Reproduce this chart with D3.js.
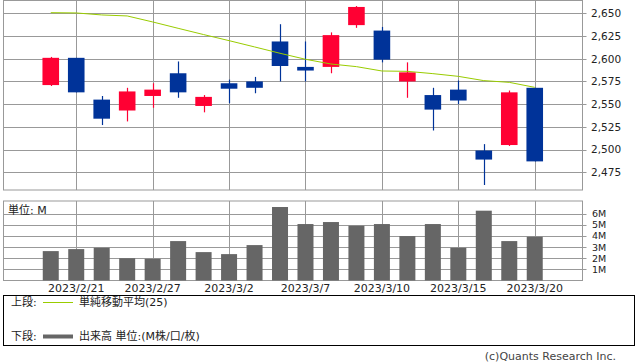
<!DOCTYPE html>
<html>
  <head>
    <meta charset="utf-8">
    <script src="https://cdnjs.cloudflare.com/ajax/libs/d3/7.8.5/d3.min.js"></script>
    <style>
      body {
        margin: 0;
        overflow: hidden;
        background: #ffffff;
      }
      text {
        font-family: "DejaVu Sans", "Noto Sans CJK JP", sans-serif;
        fill: #222;
      }
    </style>
  </head>
  <body>
    <div id="canvas"></div>
    <script>
      // 日付と四本値
      const dates = ["2/20", "2/21", "2/22", "2/24", "2/27", "2/28", "3/1", "3/2", "3/3", "3/6",
                     "3/7", "3/8", "3/9", "3/10", "3/13", "3/14", "3/15", "3/16", "3/17", "3/20"];
      const open  = [2571, 2601, 2555, 2543, 2559, 2584, 2548, 2573, 2575, 2619,
                     2591, 2591, 2637, 2631, 2575, 2560, 2566, 2499, 2505, 2568];
      const high  = [2602, 2601, 2559, 2568, 2573, 2597, 2560, 2577, 2580, 2638,
                     2619, 2629, 2658, 2635, 2596, 2568, 2576, 2506, 2565, 2568];
      const low   = [2570, 2563, 2527, 2531, 2546, 2557, 2541, 2551, 2562, 2575,
                     2575, 2584, 2634, 2596, 2557, 2521, 2550, 2461, 2504, 2487];
      const close = [2601, 2563, 2534, 2564, 2566, 2563, 2558, 2567, 2568, 2592,
                     2587, 2626, 2657, 2599, 2585, 2544, 2554, 2489, 2563, 2487];
      // 単純移動平均(25)
      const ma25 = [2650.7, 2650.4, 2648.2, 2647.1, 2640.5, 2633.5, 2626.6, 2619.9, 2613.0, 2606.0,
                    2599.4, 2594.2, 2591.3, 2586.5, 2586.1, 2583.6, 2580.6, 2575.9, 2574.0, 2568.5];
      // 出来高 (M)
      const volume = [2.64, 2.82, 2.94, 2.0, 1.95, 3.54, 2.55, 2.37, 3.18, 6.6,
                      5.07, 5.25, 4.92, 5.07, 3.99, 5.07, 2.94, 6.27, 3.54, 3.93];
      // 目盛り
      const priceTicks = [2475, 2500, 2525, 2550, 2575, 2600, 2625, 2650];
      const volTicks = [1, 2, 3, 4, 5, 6];
      const dateTicks = ["2/21", "2/27", "3/2", "3/7", "3/10", "3/15", "3/20"];

      const width = 638, height = 362;
      const left = 3, right = 582.5;
      const top1 = 0.5, bottom1 = 190;
      const top2 = 201, bottom2 = 280.5;
      const gridColor = "#999999";
      const upColor = "#ff0033", downColor = "#003399";

      const svg = d3.select("#canvas").append("svg")
        .attr("width", width).attr("height", height);

      const x = d3.scalePoint().domain(dates).range([left, right]).padding(1.875);
      const y = d3.scaleLinear().domain([2455.5, 2664.1]).range([bottom1, top1]);
      const yv = d3.scaleLinear().domain([0, 7.14]).range([bottom2, top2]);
      const bodyW = 16.6;
      const px = v => Math.round(v) + 0.5;

      // 上段のグリッド
      const g1 = svg.append("g");
      g1.selectAll(".hg").data(priceTicks).enter().append("line")
        .attr("x1", left).attr("x2", right + 4)
        .attr("y1", d => px(y(d))).attr("y2", d => px(y(d)))
        .attr("stroke", gridColor);
      g1.selectAll(".vg").data(dateTicks).enter().append("line")
        .attr("x1", d => px(x(d))).attr("x2", d => px(x(d)))
        .attr("y1", top1).attr("y2", bottom1)
        .attr("stroke", gridColor);
      g1.append("rect")
        .attr("x", left + 0.5).attr("y", top1).attr("width", right - left - 0.5).attr("height", bottom1 - top1)
        .attr("fill", "none").attr("stroke", gridColor);
      g1.selectAll(".pl").data(priceTicks).enter().append("text")
        .attr("x", 591).attr("y", d => y(d)).attr("dy", "0.36em")
        .style("font-size", "10.5px")
        .text(d => d3.format(",")(d));

      // ローソク足
      const idx = d3.range(dates.length);
      const candles = svg.append("g").selectAll("g").data(idx).enter().append("g");
      candles.append("line")
        .attr("x1", i => px(x(dates[i]))).attr("x2", i => px(x(dates[i])))
        .attr("y1", i => y(high[i])).attr("y2", i => y(low[i]))
        .attr("stroke", i => close[i] >= open[i] ? upColor : downColor)
        .attr("stroke-width", 1.2);
      candles.append("rect")
        .attr("x", i => x(dates[i]) - bodyW / 2)
        .attr("width", bodyW)
        .attr("y", i => y(Math.max(open[i], close[i])))
        .attr("height", i => Math.max(1, Math.abs(y(open[i]) - y(close[i]))))
        .attr("fill", i => close[i] >= open[i] ? upColor : downColor);

      // 移動平均線
      svg.append("path")
        .datum(idx)
        .attr("d", d3.line().x(i => x(dates[i])).y(i => y(ma25[i])))
        .attr("fill", "none")
        .attr("stroke", "#99cc00")
        .attr("stroke-width", 1);

      // 下段のグリッド
      const g2 = svg.append("g");
      g2.selectAll(".hg").data(volTicks).enter().append("line")
        .attr("x1", left).attr("x2", right + 4)
        .attr("y1", d => px(yv(d))).attr("y2", d => px(yv(d)))
        .attr("stroke", gridColor);
      g2.selectAll(".vg").data(dateTicks).enter().append("line")
        .attr("x1", d => px(x(d))).attr("x2", d => px(x(d)))
        .attr("y1", top2).attr("y2", bottom2)
        .attr("stroke", gridColor);
      g2.append("rect")
        .attr("x", left + 0.5).attr("y", top2).attr("width", right - left - 0.5).attr("height", bottom2 - top2)
        .attr("fill", "none").attr("stroke", gridColor);
      g2.selectAll(".vl").data(volTicks).enter().append("text")
        .attr("x", 592).attr("y", d => yv(d)).attr("dy", "0.36em")
        .style("font-size", "9.5px")
        .text(d => d + "M");
      g2.append("text").attr("x", 8).attr("y", 214)
        .style("font-size", "11px").text("単位: M");

      // 出来高バー
      svg.append("g").selectAll("rect").data(idx).enter().append("rect")
        .attr("x", i => x(dates[i]) - 8)
        .attr("width", 16)
        .attr("y", i => yv(volume[i]))
        .attr("height", i => yv(0) - yv(volume[i]))
        .attr("fill", "#666666");

      // 日付ラベル
      svg.append("g").selectAll("text").data(dateTicks).enter().append("text")
        .attr("x", d => x(d)).attr("y", 291.5)
        .attr("text-anchor", "middle")
        .style("font-size", "11px")
        .text(d => "2023/" + d);

      // 凡例
      const lg = svg.append("g");
      lg.append("rect").attr("x", 3.5).attr("y", 295.5).attr("width", 631).attr("height", 50)
        .attr("fill", "none").attr("stroke", "#000");
      lg.append("text").attr("x", 11).attr("y", 306).style("font-size", "11px").text("上段:");
      lg.append("line").attr("x1", 43).attr("x2", 73).attr("y1", 302.5).attr("y2", 302.5)
        .attr("stroke", "#99cc00").attr("stroke-width", 1);
      lg.append("text").attr("x", 79).attr("y", 306).style("font-size", "11px").text("単純移動平均(25)");
      lg.append("text").attr("x", 11).attr("y", 340).style("font-size", "11px").text("下段:");
      lg.append("line").attr("x1", 43).attr("x2", 73).attr("y1", 336.5).attr("y2", 336.5)
        .attr("stroke", "#666666").attr("stroke-width", 4);
      lg.append("text").attr("x", 79).attr("y", 340).style("font-size", "11px").text("出来高 単位:(M株/口/枚)");

      svg.append("text").attr("x", 616).attr("y", 360).attr("text-anchor", "end")
        .style("font-size", "11px").style("fill", "#444").text("(c)Quants Research Inc.");
    </script>
  </body>
</html>
